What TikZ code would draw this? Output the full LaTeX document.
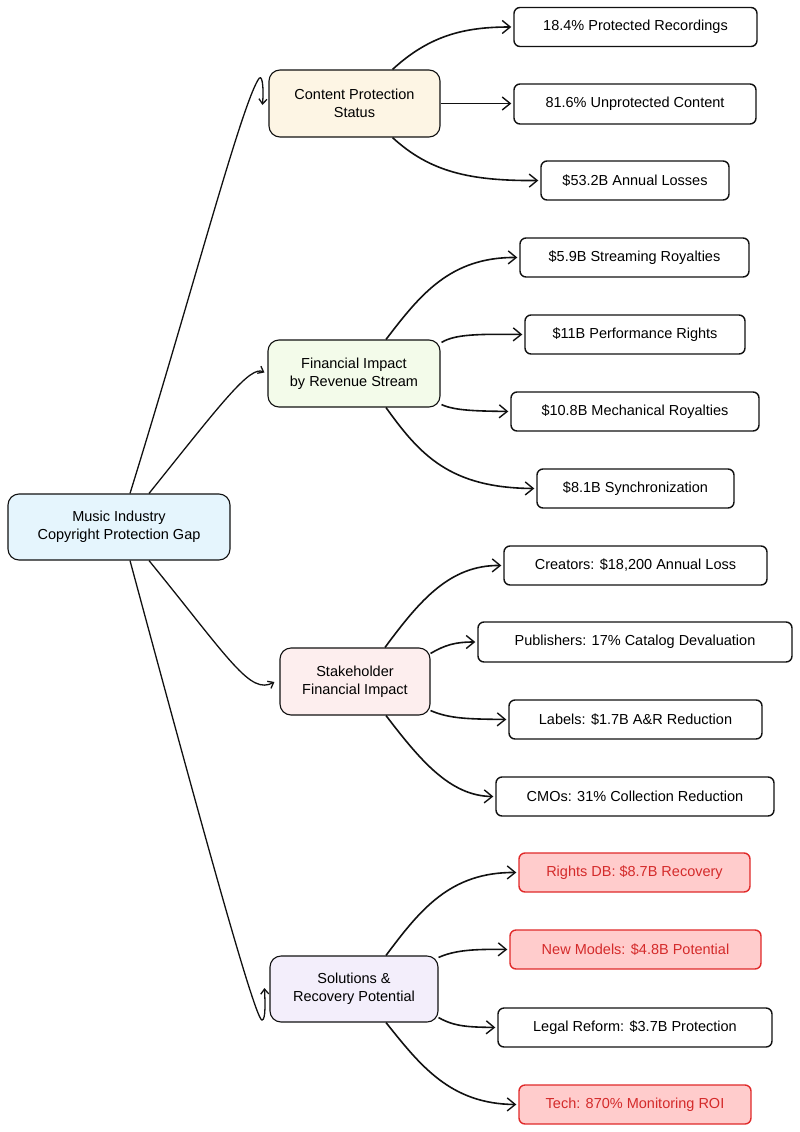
\documentclass[tikz,border=0pt]{standalone}
\usepackage{fontspec}
\setmainfont{Liberation Sans}
\usetikzlibrary{arrows.meta,calc}
\definecolor{rootc}{HTML}{E5F5FD}
\definecolor{contc}{HTML}{FDF5E4}
\definecolor{finc}{HTML}{F3FBEA}
\definecolor{stakec}{HTML}{FDEEEE}
\definecolor{solc}{HTML}{F3EEFB}
\definecolor{redfill}{HTML}{FFCCCC}
\definecolor{reddraw}{HTML}{E02A2A}
\definecolor{redtext}{HTML}{D42A2A}
\definecolor{ink}{HTML}{111111}
\begin{document}
\begin{tikzpicture}[x=1pt,y=-1pt,
  every node/.style={font=\fontsize{14.5}{18}\selectfont, align=center, inner sep=0pt},
  hub/.style={draw=ink, line width=1.1pt, rounded corners=11pt},
  leaf/.style={draw=ink, line width=1.4pt, rounded corners=6pt, fill=white, minimum height=39pt},
  hot/.style={leaf, draw=reddraw, fill=redfill, text=redtext},
  edge/.style={draw=ink, line width=1.6pt, -{Straight Barb[length=8pt,width=13pt,line width=1.4pt]}, shorten >=2pt},
  redge/.style={draw=ink, line width=1.3pt, -{Straight Barb[length=5pt,width=8pt,line width=1.3pt]}}
]
\useasboundingbox (0,0) rectangle (800,1132);

% hubs
\node[hub, fill=rootc, minimum width=222pt, minimum height=66pt] (root) at (119,527) {Music Industry\\Copyright Protection Gap};
\node[hub, fill=contc, minimum width=171pt, minimum height=67pt] (c1) at (354.5,103.5) {Content Protection\\Status};
\node[hub, fill=finc, minimum width=172pt, minimum height=67pt] (c2) at (354,373.5) {Financial Impact\\by Revenue Stream};
\node[hub, fill=stakec, minimum width=150pt, minimum height=67pt] (c3) at (355,681.5) {Stakeholder\\Financial Impact};
\node[hub, fill=solc, minimum width=168pt, minimum height=66pt] (c4) at (354,989) {Solutions \&\\Recovery Potential};

% leaves
\node[leaf, minimum width=243pt] (l1) at (635.5,27) {18.4\% Protected Recordings};
\node[leaf, minimum width=242pt, minimum height=40pt] (l2) at (635,104) {81.6\% Unprotected Content};
\node[leaf, minimum width=188pt] (l3) at (635,180.5) {\$53.2B Annual Losses};
\node[leaf, minimum width=229pt] (l4) at (634.5,257.5) {\$5.9B Streaming Royalties};
\node[leaf, minimum width=220pt] (l5) at (635,334.5) {\$11B Performance Rights};
\node[leaf, minimum width=248pt] (l6) at (635,411.5) {\$10.8B Mechanical Royalties};
\node[leaf, minimum width=197pt] (l7) at (635.5,488.5) {\$8.1B Synchronization};
\node[leaf, minimum width=263pt] (l8) at (635.5,565.5) {Creators: \$18,200 Annual Loss};
\node[leaf, minimum width=314pt, minimum height=40pt] (l9) at (635,642) {Publishers: 17\% Catalog Devaluation};
\node[leaf, minimum width=253pt] (l10) at (635.5,719.5) {Labels: \$1.7B A\&R Reduction};
\node[leaf, minimum width=278pt] (l11) at (635,796.5) {CMOs: 31\% Collection Reduction};
\node[hot, minimum width=231pt] (l12) at (634.5,872.5) {Rights DB: \$8.7B Recovery};
\node[hot, minimum width=251pt] (l13) at (635.5,949.5) {New Models: \$4.8B Potential};
\node[leaf, minimum width=274pt] (l14) at (635,1027.5) {Legal Reform: \$3.7B Protection};
\node[hot, minimum width=232pt] (l15) at (635,1104.5) {Tech: 870\% Monitoring ROI};

% root edges
\draw[redge] ($(root.north)+(11,0)$) .. controls (190,300) and (240,110) .. (258,80)
   .. controls (262,72) and (264,86) .. ($(c1.west)+(-6,1.5)$);
\draw[redge] ($(root.north)+(30,0)$) .. controls (220,405) and (250,365) .. ($(c2.west)+(-3,-1)$);
\draw[redge] ($(root.south)+(30,0)$) .. controls (230,660) and (250,695) .. ($(c3.west)+(-5,0.5)$);
\draw[redge] ($(root.south)+(11,0)$) .. controls (200,820) and (255,1020) .. (262,1020)
   .. controls (266,1020) and (265,1000) .. ($(c4.west)+(-5,-1)$);

% content
\draw[edge] ($(c1.north)+(38,0)$) .. controls (430,35) and (465,27) .. (l1.west);
\draw[edge] (c1.east) -- (c1.east -| l2.west);
\draw[edge] ($(c1.south)+(38,0)$) .. controls (430,172) and (470,181) .. (l3.west);

% financial
\draw[edge] ($(c2.north)+(32,0)$) .. controls (420,295) and (450,257) .. (l4.west);
\draw[edge] ($(c2.north east)+(1,3)$) .. controls (455,334) and (480,334) .. (l5.west);
\draw[edge] ($(c2.south east)+(1,-3)$) .. controls (455,411) and (480,411) .. (l6.west);
\draw[edge] ($(c2.south)+(32,0)$) .. controls (420,455) and (450,488) .. (l7.west);

% stakeholder
\draw[edge] ($(c3.north)+(30,0)$) .. controls (420,600) and (450,565) .. (l8.west);
\draw[edge] ($(c3.north east)+(0,6)$) .. controls (445,645) and (455,642) .. (l9.west);
\draw[edge] ($(c3.south east)+(0,-5)$) .. controls (450,719) and (470,719) .. (l10.west);
\draw[edge] ($(c3.south)+(31,0)$) .. controls (420,760) and (450,796) .. (l11.west);

% solutions
\draw[edge] ($(c4.north)+(32,0)$) .. controls (420,910) and (450,872) .. (l12.west);
\draw[edge] ($(c4.north east)+(0,2)$) .. controls (455,950) and (475,949) .. (l13.west);
\draw[edge] ($(c4.south east)+(0,-5)$) .. controls (455,1027) and (470,1027) .. (l14.west);
\draw[edge] ($(c4.south)+(32,0)$) .. controls (420,1065) and (450,1104) .. (l15.west);
\end{tikzpicture}
\end{document}
